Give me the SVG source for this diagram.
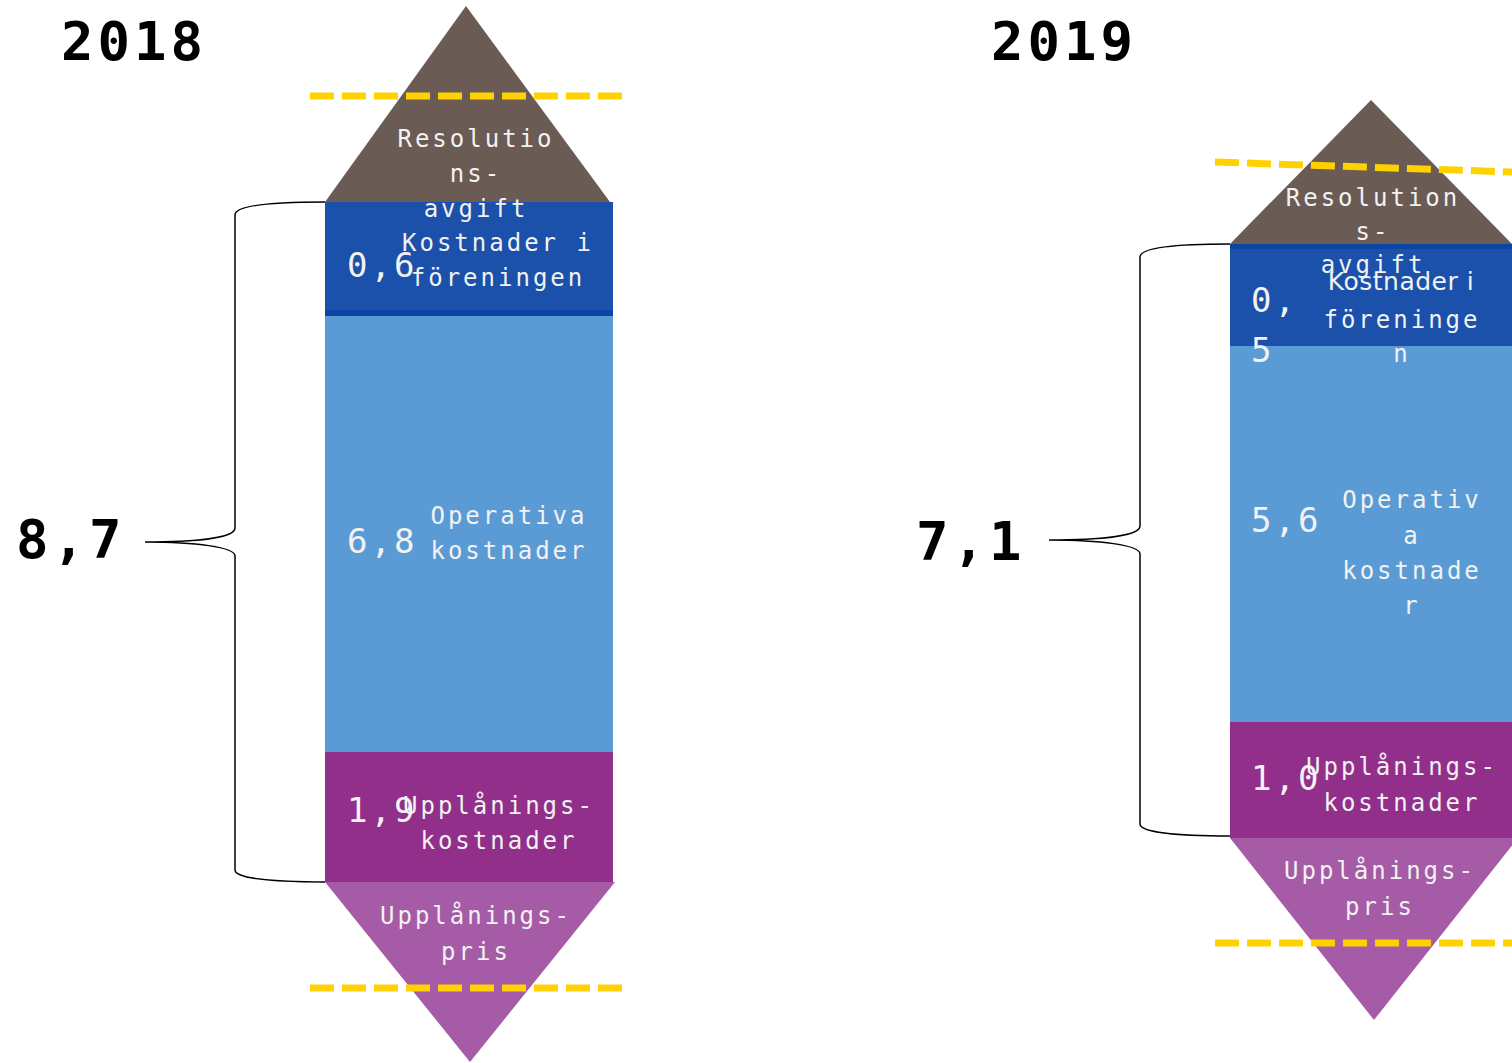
<svg xmlns="http://www.w3.org/2000/svg" width="1512" height="1063" viewBox="0 0 1512 1063">
<style>
.lbl{font-family:"DejaVu Sans Mono","Liberation Mono",monospace;font-size:24px;fill:#F2F2F2;letter-spacing:3px;text-anchor:middle}
.num{font-family:"DejaVu Sans Mono","Liberation Mono",monospace;font-size:34px;fill:#F2F2F2;letter-spacing:3px}
.big{font-family:"DejaVu Sans Mono","Liberation Mono",monospace;font-size:54px;font-weight:bold;fill:#000;letter-spacing:4px}
.dash{stroke:#FFD100;stroke-width:7;stroke-dasharray:24 8;fill:none}
.brace{stroke:#000;stroke-width:1.5;fill:none}
</style>
<rect width="1512" height="1063" fill="#fff"/>

<!-- 2018 column (drawn bottom-up so upper labels overlay lower blocks) -->
<g id="upplaningspris-2018">
<polygon points="325,882 615,882 470,1062" fill="#A55BA5"/>
<text class="lbl" x="476" y="924">Upplånings-</text>
<text class="lbl" x="476" y="960">pris</text>
</g>
<g id="upplaningskostnader-2018">
<rect x="325" y="752" width="288" height="130" fill="#912F8A"/>
<text class="num" x="347" y="822">1,9</text>
<text class="lbl" x="499" y="814">Upplånings-</text>
<text class="lbl" x="499" y="849">kostnader</text>
</g>
<g id="operativa-2018">
<rect x="325" y="316" width="288" height="436" fill="#5B9BD5"/>
<text class="num" x="347" y="553">6,8</text>
<text class="lbl" x="509" y="524">Operativa</text>
<text class="lbl" x="509" y="559">kostnader</text>
</g>
<g id="kostnader-foreningen-2018">
<rect x="325" y="202" width="288" height="114" fill="#1B50AB"/>
<rect x="325" y="310" width="288" height="6" fill="#0A45A3"/>
<text class="num" x="347" y="277">0,6</text>
<text class="lbl" x="498" y="251">Kostnader i</text>
<text class="lbl" x="498" y="286">föreningen</text>
</g>
<g id="resolution-2018">
<polygon points="466,6 325,202 610,202" fill="#6A5C54"/>
<text class="lbl" x="476" y="147">Resolutio</text>
<text class="lbl" x="476" y="182">ns-</text>
<text class="lbl" x="476" y="217">avgift</text>
</g>
<g id="total-2018">
<text class="big" x="61" y="60">2018</text>
<text class="big" x="16" y="558">8,7</text>
</g>

<!-- 2019 column -->
<g id="upplaningspris-2019">
<polygon points="1230,838 1518,838 1374,1020" fill="#A55BA5"/>
<text class="lbl" x="1380" y="879">Upplånings-</text>
<text class="lbl" x="1380" y="915">pris</text>
</g>
<g id="upplaningskostnader-2019">
<rect x="1230" y="722" width="282" height="116" fill="#912F8A"/>
<text class="num" x="1251" y="790">1,0</text>
<text class="lbl" x="1402" y="775">Upplånings-</text>
<text class="lbl" x="1402" y="811">kostnader</text>
</g>
<g id="operativa-2019">
<rect x="1230" y="346" width="282" height="376" fill="#5B9BD5"/>
<text class="num" x="1251" y="532">5,6</text>
<text class="lbl" x="1412" y="508">Operativ</text>
<text class="lbl" x="1412" y="544">a</text>
<text class="lbl" x="1412" y="579">kostnade</text>
<text class="lbl" x="1412" y="614">r</text>
</g>
<g id="kostnader-foreningen-2019">
<rect x="1230" y="244" width="282" height="102" fill="#1B50AB"/>
<rect x="1230" y="244" width="282" height="5" fill="#0A45A3"/>
<text class="num" x="1251" y="312">0,</text>
<text class="num" x="1251" y="362">5</text>
<text class="lbl" x="1401" y="290" style="font-family:'DejaVu Sans','Liberation Sans',sans-serif;letter-spacing:0.5px;font-size:25px">Kostnader i</text>
<text class="lbl" x="1402" y="328">föreninge</text>
<text class="lbl" x="1402" y="362">n</text>
</g>
<g id="resolution-2019">
<polygon points="1371,100 1230,244 1512,244" fill="#6A5C54"/>
<text class="lbl" x="1373" y="206">Resolution</text>
<text class="lbl" x="1373" y="240">s-</text>
<text class="lbl" x="1373" y="273">avgift</text>
</g>
<g id="total-2019">
<text class="big" x="991" y="60">2019</text>
<text class="big" x="916" y="560">7,1</text>
</g>

<g id="connectors">
<line class="dash" x1="310" y1="96" x2="623" y2="96"/>
<line class="dash" x1="310" y1="988" x2="623" y2="988"/>
<line class="dash" x1="1215" y1="162" x2="1512" y2="172"/>
<line class="dash" x1="1215" y1="943" x2="1512" y2="943"/>
<path class="brace" d="M325,202 C270,202 235,206 235,215 L235,528 C235,538 195,542 145,542 C195,542 235,547 235,556 L235,870 C235,878 270,882 325,882"/>
<path class="brace" d="M1230,244 C1175,244 1140,248 1140,257 L1140,526 C1140,536 1100,540 1049,540 C1100,540 1140,545 1140,554 L1140,824 C1140,832 1175,836 1230,836"/>
</g>
</svg>
